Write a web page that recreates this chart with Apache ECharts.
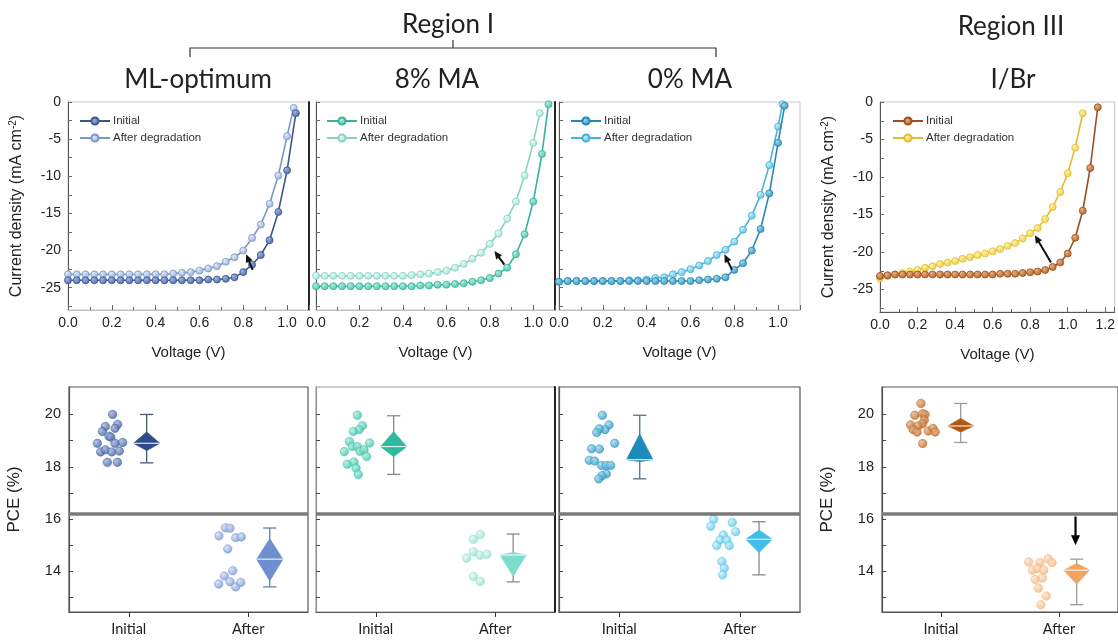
<!DOCTYPE html>
<html>
<head>
<meta charset="utf-8">
<script src="https://cdn.jsdelivr.net/npm/echarts@6.0.0/dist/echarts.min.js"></script>
<style>
html,body{margin:0;padding:0;background:#fff;}
#chart{width:1118px;height:641px;}
</style>
</head>
<body>
<div id="chart"></div>
<script>
// ---------------- DATA ----------------
const regionTitles = ['Region I', 'Region III'];
const panelTitles = ['ML-optimum', '8% MA', '0% MA', 'I/Br'];
const jvLegendNames = ['Initial', 'After degradation'];
const pceCategories = ['Initial', 'After'];
const currentTickLabels = [-25, -20, -15, -10, -5, 0];
const currentMinorTicks = [-27.5, -25, -22.5, -20, -17.5, -15, -12.5, -10, -7.5, -5, -2.5, 0];
const pceTickLabels = [14, 16, 18, 20];
const pceTicks = [13, 14, 15, 16, 17, 18, 19, 20];
const pceThreshold = 16.2;

// J-V curves [V, J]
const jvML_init = [[0.00,-24.0],[0.04,-24.0],[0.08,-24.0],[0.12,-24.0],[0.16,-24.0],[0.20,-24.0],[0.24,-24.0],[0.28,-24.0],[0.32,-24.0],[0.36,-24.0],[0.40,-24.0],[0.44,-24.0],[0.48,-24.0],[0.52,-24.0],[0.56,-24.0],[0.60,-24.0],[0.64,-23.9],[0.68,-23.9],[0.72,-23.8],[0.76,-23.6],[0.80,-22.9],[0.84,-21.9],[0.88,-20.6],[0.92,-18.6],[0.96,-14.8],[1.00,-9.2],[1.04,-1.5]];
const jvML_after = [[0.00,-23.2],[0.04,-23.2],[0.08,-23.2],[0.12,-23.2],[0.16,-23.2],[0.20,-23.2],[0.24,-23.2],[0.28,-23.2],[0.32,-23.2],[0.36,-23.2],[0.40,-23.2],[0.44,-23.2],[0.48,-23.1],[0.52,-23.0],[0.56,-22.9],[0.60,-22.7],[0.64,-22.4],[0.68,-22.1],[0.72,-21.5],[0.76,-20.9],[0.80,-20.0],[0.84,-18.3],[0.88,-16.5],[0.92,-13.7],[0.96,-9.9],[1.00,-4.6],[1.03,-0.8]];
const jv8_init = [[0.00,-24.8],[0.04,-24.8],[0.08,-24.8],[0.12,-24.8],[0.16,-24.8],[0.20,-24.8],[0.24,-24.8],[0.28,-24.8],[0.32,-24.8],[0.36,-24.8],[0.40,-24.8],[0.44,-24.8],[0.48,-24.7],[0.52,-24.7],[0.56,-24.6],[0.60,-24.6],[0.64,-24.5],[0.68,-24.4],[0.72,-24.2],[0.76,-24.0],[0.80,-23.7],[0.84,-23.1],[0.88,-22.3],[0.92,-20.5],[0.96,-17.8],[1.00,-13.4],[1.04,-7.0],[1.07,-0.3]];
const jv8_after = [[0.00,-23.4],[0.04,-23.4],[0.08,-23.4],[0.12,-23.4],[0.16,-23.4],[0.20,-23.4],[0.24,-23.4],[0.28,-23.4],[0.32,-23.4],[0.36,-23.4],[0.40,-23.4],[0.44,-23.3],[0.48,-23.2],[0.52,-23.1],[0.56,-22.9],[0.60,-22.7],[0.64,-22.3],[0.68,-21.8],[0.72,-21.1],[0.76,-20.3],[0.80,-19.1],[0.84,-17.7],[0.88,-15.7],[0.92,-13.4],[0.96,-9.9],[1.00,-5.5],[1.03,-1.5]];
const jv0_init = [[0.00,-24.2],[0.04,-24.1],[0.08,-24.1],[0.12,-24.1],[0.16,-24.1],[0.20,-24.1],[0.24,-24.1],[0.28,-24.1],[0.32,-24.1],[0.36,-24.1],[0.40,-24.1],[0.44,-24.1],[0.48,-24.1],[0.52,-24.1],[0.56,-24.1],[0.60,-24.1],[0.64,-24.0],[0.68,-23.9],[0.72,-23.8],[0.76,-23.6],[0.80,-22.6],[0.84,-21.7],[0.88,-20.0],[0.92,-17.1],[0.96,-12.3],[1.00,-5.5],[1.03,-0.5]];
const jv0_after = [[0.00,-24.2],[0.04,-24.1],[0.08,-24.1],[0.12,-24.1],[0.16,-24.1],[0.20,-24.1],[0.24,-24.1],[0.28,-24.1],[0.32,-24.0],[0.36,-24.0],[0.40,-23.9],[0.44,-23.7],[0.48,-23.6],[0.52,-23.2],[0.56,-22.9],[0.60,-22.5],[0.64,-22.0],[0.68,-21.4],[0.72,-20.6],[0.76,-19.9],[0.80,-18.8],[0.84,-17.2],[0.88,-15.3],[0.92,-12.5],[0.96,-8.5],[1.00,-3.3],[1.02,-0.3]];
const jvIBr_init = [[0.00,-23.2],[0.04,-23.1],[0.08,-23.0],[0.12,-23.0],[0.16,-23.0],[0.20,-23.0],[0.24,-23.0],[0.28,-23.0],[0.32,-23.0],[0.36,-23.0],[0.40,-23.0],[0.44,-23.0],[0.48,-23.0],[0.52,-23.0],[0.56,-23.0],[0.60,-23.0],[0.64,-22.9],[0.68,-22.9],[0.72,-22.9],[0.76,-22.8],[0.80,-22.7],[0.84,-22.6],[0.88,-22.4],[0.92,-22.0],[0.96,-21.4],[1.00,-20.2],[1.04,-18.1],[1.08,-14.5],[1.12,-8.8],[1.16,-0.7]];
const jvIBr_after = [[0.00,-23.5],[0.04,-23.2],[0.08,-23.0],[0.12,-22.8],[0.16,-22.6],[0.20,-22.4],[0.24,-22.1],[0.28,-21.9],[0.32,-21.6],[0.36,-21.4],[0.40,-21.2],[0.44,-20.9],[0.48,-20.7],[0.52,-20.4],[0.56,-20.2],[0.60,-19.9],[0.64,-19.6],[0.68,-19.2],[0.72,-18.8],[0.76,-18.2],[0.80,-17.5],[0.84,-16.8],[0.88,-15.6],[0.92,-14.0],[0.96,-12.0],[1.00,-9.5],[1.04,-6.1],[1.08,-1.5]];

// degradation arrows [[fromV, fromJ], [toV, toJ]]
const arrowML = [[0.843,-22.6],[0.813,-20.5]];
const arrow8 = [[0.867,-21.9],[0.821,-20.05]];
const arrow0 = [[0.790,-22.6],[0.755,-20.5]];
const arrowIBr = [[0.911,-21.4],[0.825,-17.75]];

// PCE individual devices [x-jitter position, PCE %]
const pceML_init = [[0.365,20.0],[0.304,19.54],[0.407,19.62],[0.385,19.47],[0.279,19.35],[0.335,19.17],[0.350,19.13],[0.237,18.9],[0.385,18.9],[0.449,18.93],[0.265,18.57],[0.304,18.65],[0.357,18.57],[0.421,18.6],[0.321,18.17],[0.405,18.17]];
const pceML_after = [[1.308,15.67],[1.347,15.65],[1.255,15.36],[1.395,15.29],[1.442,15.32],[1.328,14.86],[1.370,14.03],[1.300,13.83],[1.253,13.52],[1.347,13.61],[1.395,13.41],[1.437,13.58]];
const pce8_init = [[0.346,19.97],[0.388,19.57],[0.360,19.42],[0.313,19.35],[0.279,18.97],[0.304,18.78],[0.346,18.77],[0.449,18.91],[0.237,18.58],[0.368,18.59],[0.402,18.65],[0.424,18.39],[0.262,18.1],[0.318,18.18],[0.335,17.95],[0.354,17.71]];
const pce8_after = [[1.375,15.41],[1.317,15.23],[1.317,14.75],[1.372,14.62],[1.431,14.66],[1.261,14.51],[1.317,13.81],[1.375,13.62]];
const pce0_init = [[0.360,19.97],[0.415,19.6],[0.382,19.42],[0.335,19.45],[0.313,19.31],[0.462,18.9],[0.271,18.69],[0.335,18.68],[0.251,18.25],[0.296,18.22],[0.354,18.05],[0.393,18.05],[0.429,18.05],[0.393,17.73],[0.357,17.66],[0.330,17.54]];
const pce0_after = [[1.284,16.0],[1.259,15.73],[1.438,15.87],[1.466,15.52],[1.363,15.39],[1.336,15.2],[1.392,15.2],[1.309,14.99],[1.413,14.99],[1.350,14.38],[1.372,14.13],[1.358,13.87]];
const pceIBr_init = [[0.330,20.42],[0.278,19.97],[0.345,20.03],[0.365,20.0],[0.359,19.79],[0.343,19.65],[0.243,19.6],[0.305,19.56],[0.264,19.43],[0.297,19.33],[0.392,19.37],[0.432,19.47],[0.451,19.33],[0.345,18.89]];
const pceIBr_after = [[1.243,14.36],[1.338,14.34],[1.408,14.49],[1.441,14.34],[1.276,14.05],[1.316,14.11],[1.371,14.05],[1.298,13.69],[1.359,13.75],[1.326,13.36],[1.392,13.06],[1.346,12.73]];

// box (diamond) statistics [x, min, q1, median, q3, max]
const boxML_init = [0.65, 18.15, 18.62, 18.9, 19.33, 20.0];
const boxML_after = [1.68, 13.41, 13.64, 14.47, 15.25, 15.66];
const box8_init = [0.65, 17.71, 18.39, 18.77, 19.34, 19.95];
const box8_after = [1.65, 13.6, 13.82, 14.63, 14.72, 15.43];
const box0_init = [0.67, 17.54, 18.2, 18.27, 19.25, 19.97];
const box0_after = [1.66, 13.87, 14.72, 15.23, 15.58, 15.9];
const boxIBr_init = [0.667, 18.93, 19.33, 19.56, 19.85, 20.42];
const boxIBr_after = [1.65, 12.73, 13.52, 14.05, 14.3, 14.47];
const arrowPCE = [[1.64, 16.1], [1.64, 15.0]];

// ---------------- STYLE / LAYOUT ----------------
const BOX_HALF = 0.11, CAP_HALF = 0.055;
const NUM_FONT = "'Liberation Sans', Arial, sans-serif";
const TITLE_FONT = "Lato, 'Open Sans', sans-serif";

const topGrids = [
  {left:68, top:102, width:241, height:208},
  {left:316, top:102, width:239, height:208},
  {left:559, top:102, width:241, height:208},
  {left:880, top:102, width:240, height:210}
];
const botGrids = [
  {left:69, top:387, width:239, height:225},
  {left:316, top:387, width:239, height:225},
  {left:559, top:387, width:241, height:225},
  {left:882, top:387, width:246, height:225}
];
const topPanels = [
  {init: jvML_init, after: jvML_after, arrow: arrowML, xmax:1.1, ylab:true, key:'ML',
   c:{il:'#3b5591', im:'#4d6aa6', ih:'#9fb4dd', al:'#7d96c7', am:'#98b0dc', ah:'#e0e9f8'}, legLeft:74, rightDark:true, bottomColor:'#bdbdbd'},
  {init: jv8_init, after: jv8_after, arrow: arrow8, xmax:1.1, ylab:false, key:'8',
   c:{il:'#38b39a', im:'#4cc3a9', ih:'#b0ecdd', al:'#86d3c3', am:'#a3e3d5', ah:'#eafaf5'}, legLeft:321, rightDark:true, bottomColor:'#bdbdbd'},
  {init: jv0_init, after: jv0_after, arrow: arrow0, xmax:1.1, ylab:false, key:'0',
   c:{il:'#2a86ad', im:'#3596bf', ih:'#9ad6ee', al:'#46b2d6', am:'#5cc3e4', ah:'#c4eef9'}, legLeft:565, rightDark:false, bottomColor:'#bdbdbd'},
  {init: jvIBr_init, after: jvIBr_after, arrow: arrowIBr, xmax:1.25, ylab:true, key:'IBr',
   c:{il:'#9a4f1e', im:'#b0632c', ih:'#e8b080', al:'#e2bc2f', am:'#f0cc44', ah:'#fdf0b0'}, legLeft:887, rightDark:false, bottomColor:'#555'}
];
const botPanels = [
  {init: pceML_init, after: pceML_after, bi: boxML_init, ba: boxML_after, ylab:true,
   c:{pi:'#3f5c9a', pih:'#9fb3de', bi:'#2f4b8a', wi:'#4b5872', pa:'#7493cf', pah:'#d0dcf4', ba:'#6e8ed0', wa:'#6b7ea6'}},
  {init: pce8_init, after: pce8_after, bi: box8_init, ba: box8_after, ylab:false,
   c:{pi:'#36bfa4', pih:'#aaeedd', bi:'#2fb99d', wi:'#8a8a8a', pa:'#8ddccb', pah:'#e2f8f2', ba:'#7fdccc', wa:'#8a8a8a'}},
  {init: pce0_init, after: pce0_after, bi: box0_init, ba: box0_after, ylab:false,
   c:{pi:'#2a93c0', pih:'#9ed8f0', bi:'#1e8cbb', wi:'#55708a', pa:'#52c4e6', pah:'#c8f0fb', ba:'#40bce9', wa:'#8a8a8a'}},
  {init: pceIBr_init, after: pceIBr_after, bi: boxIBr_init, ba: boxIBr_after, ylab:true,
   c:{pi:'#b8621e', pih:'#eab48a', bi:'#b05812', wi:'#9a9a9a', pa:'#f1b27c', pah:'#fde4cc', ba:'#f2a261', wa:'#9a9a9a'}}
];

function ball(base, hi){
  return new echarts.graphic.RadialGradient(0.35, 0.35, 0.7, [{offset:0, color:hi},{offset:1, color:base}]);
}
function fmtV(v){
  const k = v/0.2;
  return Math.abs(k-Math.round(k))<1e-6 ? v.toFixed(1) : '';
}
function boxRender(fill, whisker){
  return function(params, api){
    const xc = api.value(0);
    const c = v => api.coord([xc, v]);
    const hw = api.size([BOX_HALF, 0])[0];
    const cw = api.size([CAP_HALF, 0])[0];
    const pMin = c(api.value(1)), pQ1 = c(api.value(2)), pMd = c(api.value(3)), pQ3 = c(api.value(4)), pMax = c(api.value(5));
    const ws = {stroke: whisker, lineWidth: 1.3};
    return {type:'group', children:[
      {type:'line', shape:{x1:pMin[0], y1:pMin[1], x2:pMax[0], y2:pMax[1]}, style:ws},
      {type:'line', shape:{x1:pMin[0]-cw, y1:pMin[1], x2:pMin[0]+cw, y2:pMin[1]}, style:ws},
      {type:'line', shape:{x1:pMax[0]-cw, y1:pMax[1], x2:pMax[0]+cw, y2:pMax[1]}, style:ws},
      {type:'polygon', shape:{points:[[pQ3[0],pQ3[1]],[pMd[0]+hw,pMd[1]],[pQ1[0],pQ1[1]],[pMd[0]-hw,pMd[1]]]}, style:{fill:fill, stroke:fill, lineWidth:0.8}},
      {type:'line', shape:{x1:pMd[0]-hw, y1:pMd[1], x2:pMd[0]+hw, y2:pMd[1]}, style:{stroke:'#ffffff', lineWidth:1}}
    ]};
  };
}
// arrow drawn through the axis scales (custom series)
function arrowRender(color, width, head){
  return function(params, api){
    const a = api.coord([api.value(0), api.value(1)]);
    const b = api.coord([api.value(2), api.value(3)]);
    const dx = b[0]-a[0], dy = b[1]-a[1];
    const L = Math.sqrt(dx*dx+dy*dy) || 1;
    const ux = dx/L, uy = dy/L;
    const bx = b[0]-ux*head, by = b[1]-uy*head;
    const hw = head*0.45;
    return {type:'group', children:[
      {type:'line', shape:{x1:a[0], y1:a[1], x2:bx+ux*1, y2:by+uy*1}, style:{stroke:color, lineWidth:width}},
      {type:'polygon', shape:{points:[[b[0],b[1]],[bx-uy*hw, by+ux*hw],[bx+uy*hw, by-ux*hw]]}, style:{fill:color}}
    ]};
  };
}

const grid = [], xAxis = [], yAxis = [], series = [], legend = [];

topPanels.forEach((p, i) => {
  grid.push(Object.assign({show:true, borderColor:'#c8c8c8', borderWidth:1, backgroundColor:'transparent'}, topGrids[i]));
  xAxis.push({type:'value', gridIndex:i, min:0, max:p.xmax, interval:0.2,
    name:'Voltage (V)', nameLocation:'middle', nameGap:35,
    nameTextStyle:{fontFamily:NUM_FONT, fontSize:15, color:'#222'},
    axisLine:{show:true, onZero:false, lineStyle:{color:p.bottomColor, width:1}},
    axisTick:{show:true, inside:true, length:5, lineStyle:{color:'#666'}},
    minorTick:{show:true, splitNumber:2, length:3, lineStyle:{color:'#666'}},
    splitLine:{show:false}, minorSplitLine:{show:false},
    axisLabel:{formatter:fmtV, fontFamily:NUM_FONT, fontSize:14, color:'#222', margin:6, showMaxLabel:false}
  });
  yAxis.push({type:'value', gridIndex:i, min:-28, max:0,
    name: p.ylab ? '{a|Current density (mA cm}{s|-2}{a|)}' : '', nameLocation:'middle', nameGap:42, nameRotate:90,
    nameTextStyle:{rich:{a:{fontFamily:NUM_FONT, fontSize:16, color:'#222'}, s:{fontFamily:NUM_FONT, fontSize:10, color:'#222', verticalAlign:'top', padding:[0,0,8,0]}}},
    axisLine:{show:true, lineStyle:{color:'#555', width:1}},
    axisTick:{show:true, inside:true, length:4, customValues:currentMinorTicks, lineStyle:{color:'#666'}},
    splitLine:{show:false},
    axisLabel:{show:p.ylab, customValues:currentTickLabels, fontFamily:NUM_FONT, fontSize:14, color:'#222', margin:7}
  });
  if (p.rightDark) {
    yAxis.push({type:'value', gridIndex:i, min:-28, max:0, position:'right',
      axisLine:{show:true, lineStyle:{color:'#111', width:1.8}}, axisTick:{show:false}, axisLabel:{show:false}, splitLine:{show:false}});
  }
});
const topY = [];
{ let k = 0; topPanels.forEach((p) => { topY.push(k); k += p.rightDark ? 2 : 1; }); }
const yOffset = yAxis.length;

botPanels.forEach((p, i) => {
  const gi = 4 + i;
  grid.push(Object.assign({show:true, borderColor: i===1 ? '#999' : '#555', borderWidth:1.2, backgroundColor:'transparent'}, botGrids[i]));
  xAxis.push({type:'value', gridIndex:gi, min:0, max:2,
    axisLine:{show:true, onZero:false, lineStyle:{color:'#555', width:1.2}},
    axisTick:{show:true, inside:false, length:5, customValues:[0.5, 1.5], lineStyle:{color:'#333'}},
    splitLine:{show:false},
    axisLabel:{customValues:[0.5, 1.5], formatter: v => pceCategories[Math.round(v - 0.5)], fontFamily:TITLE_FONT, fontSize:14.5, color:'#222', margin:10}
  });
  yAxis.push({type:'value', gridIndex:gi, min:12.45, max:21.05,
    name: p.ylab ? 'PCE (%)' : '', nameLocation:'middle', nameGap:46, nameRotate:90,
    nameTextStyle:{fontFamily:NUM_FONT, fontSize:17, color:'#222'},
    axisLine:{show:true, lineStyle:{color: i===1 ? '#999' : '#555', width:1.2}},
    axisTick:{show:true, inside:true, length:4, customValues:pceTicks, lineStyle:{color:'#444'}},
    splitLine:{show:false},
    axisLabel:{show:p.ylab, customValues:pceTickLabels, fontFamily:NUM_FONT, fontSize:14.5, color:'#222', margin:8}
  });
  if (i === 1) {
    yAxis.push({type:'value', gridIndex:gi, min:12.45, max:21.05, position:'right',
      axisLine:{show:true, lineStyle:{color:'#111', width:1.8}}, axisTick:{show:false}, axisLabel:{show:false}, splitLine:{show:false}});
  }
});
const botY = [yOffset, yOffset+1, yOffset+3, yOffset+4];

// J-V series
topPanels.forEach((p, i) => {
  const nI = p.key + '|' + jvLegendNames[0], nA = p.key + '|' + jvLegendNames[1];
  series.push({type:'line', name:nI, xAxisIndex:i, yAxisIndex:topY[i], data:p.init,
    symbol:'circle', symbolSize:7, showSymbol:true, z:3,
    lineStyle:{color:p.c.il, width:1.6}, itemStyle:{color:ball(p.c.im, p.c.ih), borderColor:p.c.il, borderWidth:0.8},
    emphasis:{disabled:true}
  });
  series.push({type:'line', name:nA, xAxisIndex:i, yAxisIndex:topY[i], data:p.after,
    symbol:'circle', symbolSize:7, showSymbol:true, z:2,
    lineStyle:{color:p.c.al, width:1.6}, itemStyle:{color:ball(p.c.am, p.c.ah), borderColor:p.c.al, borderWidth:0.8},
    emphasis:{disabled:true}
  });
  series.push({type:'custom', name:'arrow'+i, xAxisIndex:i, yAxisIndex:topY[i], z:5, silent:true, clip:false,
    data:[[p.arrow[0][0], p.arrow[0][1], p.arrow[1][0], p.arrow[1][1]]],
    encode:{x:[0,2], y:[1,3]}, renderItem:arrowRender('#111', 2, 8)});
  legend.push({show:true, left:p.legLeft, top:110, orient:'vertical', itemWidth:30, itemHeight:9, itemGap:5,
    selectedMode:false, data:[nI, nA], formatter: n => n.split('|')[1],
    textStyle:{fontFamily:NUM_FONT, fontSize:11.5, color:'#333', padding:[0,0,0,-2]}});
});

// PCE series
botPanels.forEach((p, i) => {
  const xi = 4 + i, yi = botY[i];
  series.push({type:'scatter', name:'pceI'+i, xAxisIndex:xi, yAxisIndex:yi, data:p.init, symbolSize:8.5, z:3,
    itemStyle:{color:ball(p.c.pi, p.c.pih), borderColor:p.c.pi, borderWidth:0.6}, emphasis:{disabled:true},
    markLine:{silent:true, symbol:'none', label:{show:false}, lineStyle:{color:'#7a7a7a', width:3.5, type:'solid'}, emphasis:{disabled:true},
      data:[{yAxis:pceThreshold}]}
  });
  series.push({type:'scatter', name:'pceA'+i, xAxisIndex:xi, yAxisIndex:yi, data:p.after, symbolSize:8.5, z:3,
    itemStyle:{color:ball(p.c.pa, p.c.pah), borderColor:p.c.pa, borderWidth:0.6}, emphasis:{disabled:true}});
  series.push({type:'custom', name:'boxI'+i, xAxisIndex:xi, yAxisIndex:yi, data:[p.bi], z:2,
    encode:{x:0, y:[1,2,3,4,5]}, renderItem:boxRender(p.c.bi, p.c.wi), silent:true});
  series.push({type:'custom', name:'boxA'+i, xAxisIndex:xi, yAxisIndex:yi, data:[p.ba], z:2,
    encode:{x:0, y:[1,2,3,4,5]}, renderItem:boxRender(p.c.ba, p.c.wa), silent:true});
  if (i === 3) {
    series.push({type:'custom', name:'arrowPCE', xAxisIndex:xi, yAxisIndex:yi, z:5, silent:true,
      data:[[arrowPCE[0][0], arrowPCE[0][1], arrowPCE[1][0], arrowPCE[1][1]]],
      encode:{x:[0,2], y:[1,3]}, renderItem:arrowRender('#000', 2.2, 10)});
  }
});

const titleStyle = {fill:'#222', font:'26px ' + TITLE_FONT, textAlign:'center', textVerticalAlign:'middle'};
const graphic = [
  {type:'text', x:448, y:25, style:Object.assign({text:regionTitles[0]}, titleStyle)},
  {type:'text', x:1011, y:27, style:Object.assign({text:regionTitles[1]}, titleStyle)},
  {type:'text', x:198, y:80, style:Object.assign({text:panelTitles[0]}, titleStyle)},
  {type:'text', x:437, y:80, style:Object.assign({text:panelTitles[1]}, titleStyle)},
  {type:'text', x:690, y:80, style:Object.assign({text:panelTitles[2]}, titleStyle)},
  {type:'text', x:1013, y:80, style:Object.assign({text:panelTitles[3]}, titleStyle)},
  {type:'polyline', shape:{points:[[190,57],[190,48],[716,48],[716,57]]}, style:{stroke:'#333', lineWidth:1.2, fill:null}},
  {type:'line', shape:{x1:453, y1:48, x2:453, y2:40}, style:{stroke:'#333', lineWidth:1.2}}
];

const chart = echarts.init(document.getElementById('chart'), null, {renderer:'canvas'});
chart.setOption({
  animation:false,
  backgroundColor:'#ffffff',
  grid, xAxis, yAxis, series, legend, graphic,
  tooltip:{show:false}
});
</script>
</body>
</html>
